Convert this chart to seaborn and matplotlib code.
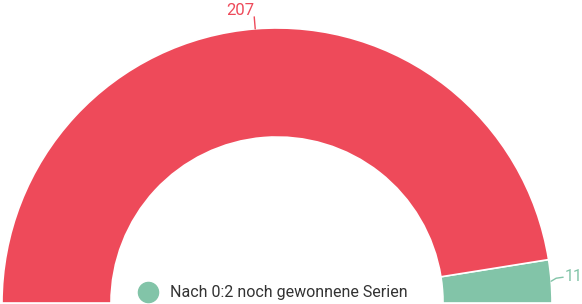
import numpy as np
import matplotlib
matplotlib.use("Agg")
import matplotlib.pyplot as plt
from matplotlib.lines import Line2D
import seaborn as sns

# data
categories = ["Nach 0:2 noch gewonnene Serien", "Nach 0:2 verlorene Serien"]
values = [11, 207]
colors = ["#82c4a8", "#ee4a5a"]
legend_label = "Nach 0:2 noch gewonnene Serien"

sns.set_theme(style="white")
plt.rcParams["font.family"] = ["Roboto", "DejaVu Sans"]

W, H = 582, 304
fig = plt.figure(figsize=(W / 100, H / 100), dpi=100)
ax = fig.add_axes([0, 0, 1, 1])

cx, cy = 277, 1
R, r = 275, 166
total = sum(values)
pie_vals = values + [total]  # hidden lower half
pie_cols = colors + [(1, 1, 1, 0)]
wedges, _ = ax.pie(pie_vals, colors=pie_cols, startangle=0, counterclock=True,
                   center=(cx, cy), radius=R,
                   wedgeprops=dict(width=R - r, edgecolor="white", linewidth=1.2))
wedges[-1].set_edgecolor((1, 1, 1, 0))

# labels with leader lines
# green (11)
w = wedges[0]
ang = np.deg2rad((w.theta1 + w.theta2) / 2)
x0, y0 = cx + R * np.cos(ang), cy + R * np.sin(ang)
ax.plot([x0, x0 + 5, x0 + 12], [y0, y0 + 3, y0 + 4], color=colors[0], lw=1)
ax.text(x0 + 14, y0 + 5, str(values[0]), color=colors[0], fontsize=11.5,
        ha="left", va="center")
# red (207)
w = wedges[1]
ang = np.deg2rad((w.theta1 + w.theta2) / 2)
x0, y0 = cx + R * np.cos(ang), cy + R * np.sin(ang)
ax.plot([x0, x0 - 1], [y0, y0 + 12], color=colors[1], lw=1)
ax.text(x0 - 15, y0 + 18, str(values[1]), color=colors[1], fontsize=12,
        ha="center", va="center")

ax.set_xlim(0, W)
ax.set_ylim(0, H)
ax.set_aspect("auto")
ax.axis("off")

handle = Line2D([], [], marker="o", color=colors[0], linestyle="", markersize=14.5)
leg = ax.legend([handle], [legend_label], loc="center left",
                bbox_to_anchor=(137.5 / W, 11 / H), frameon=False,
                fontsize=11.5, handlelength=1.3, handletextpad=0.72,
                borderaxespad=0, borderpad=0)
for t in leg.get_texts():
    t.set_color("#333333")

fig.savefig("out.png", dpi=100)
